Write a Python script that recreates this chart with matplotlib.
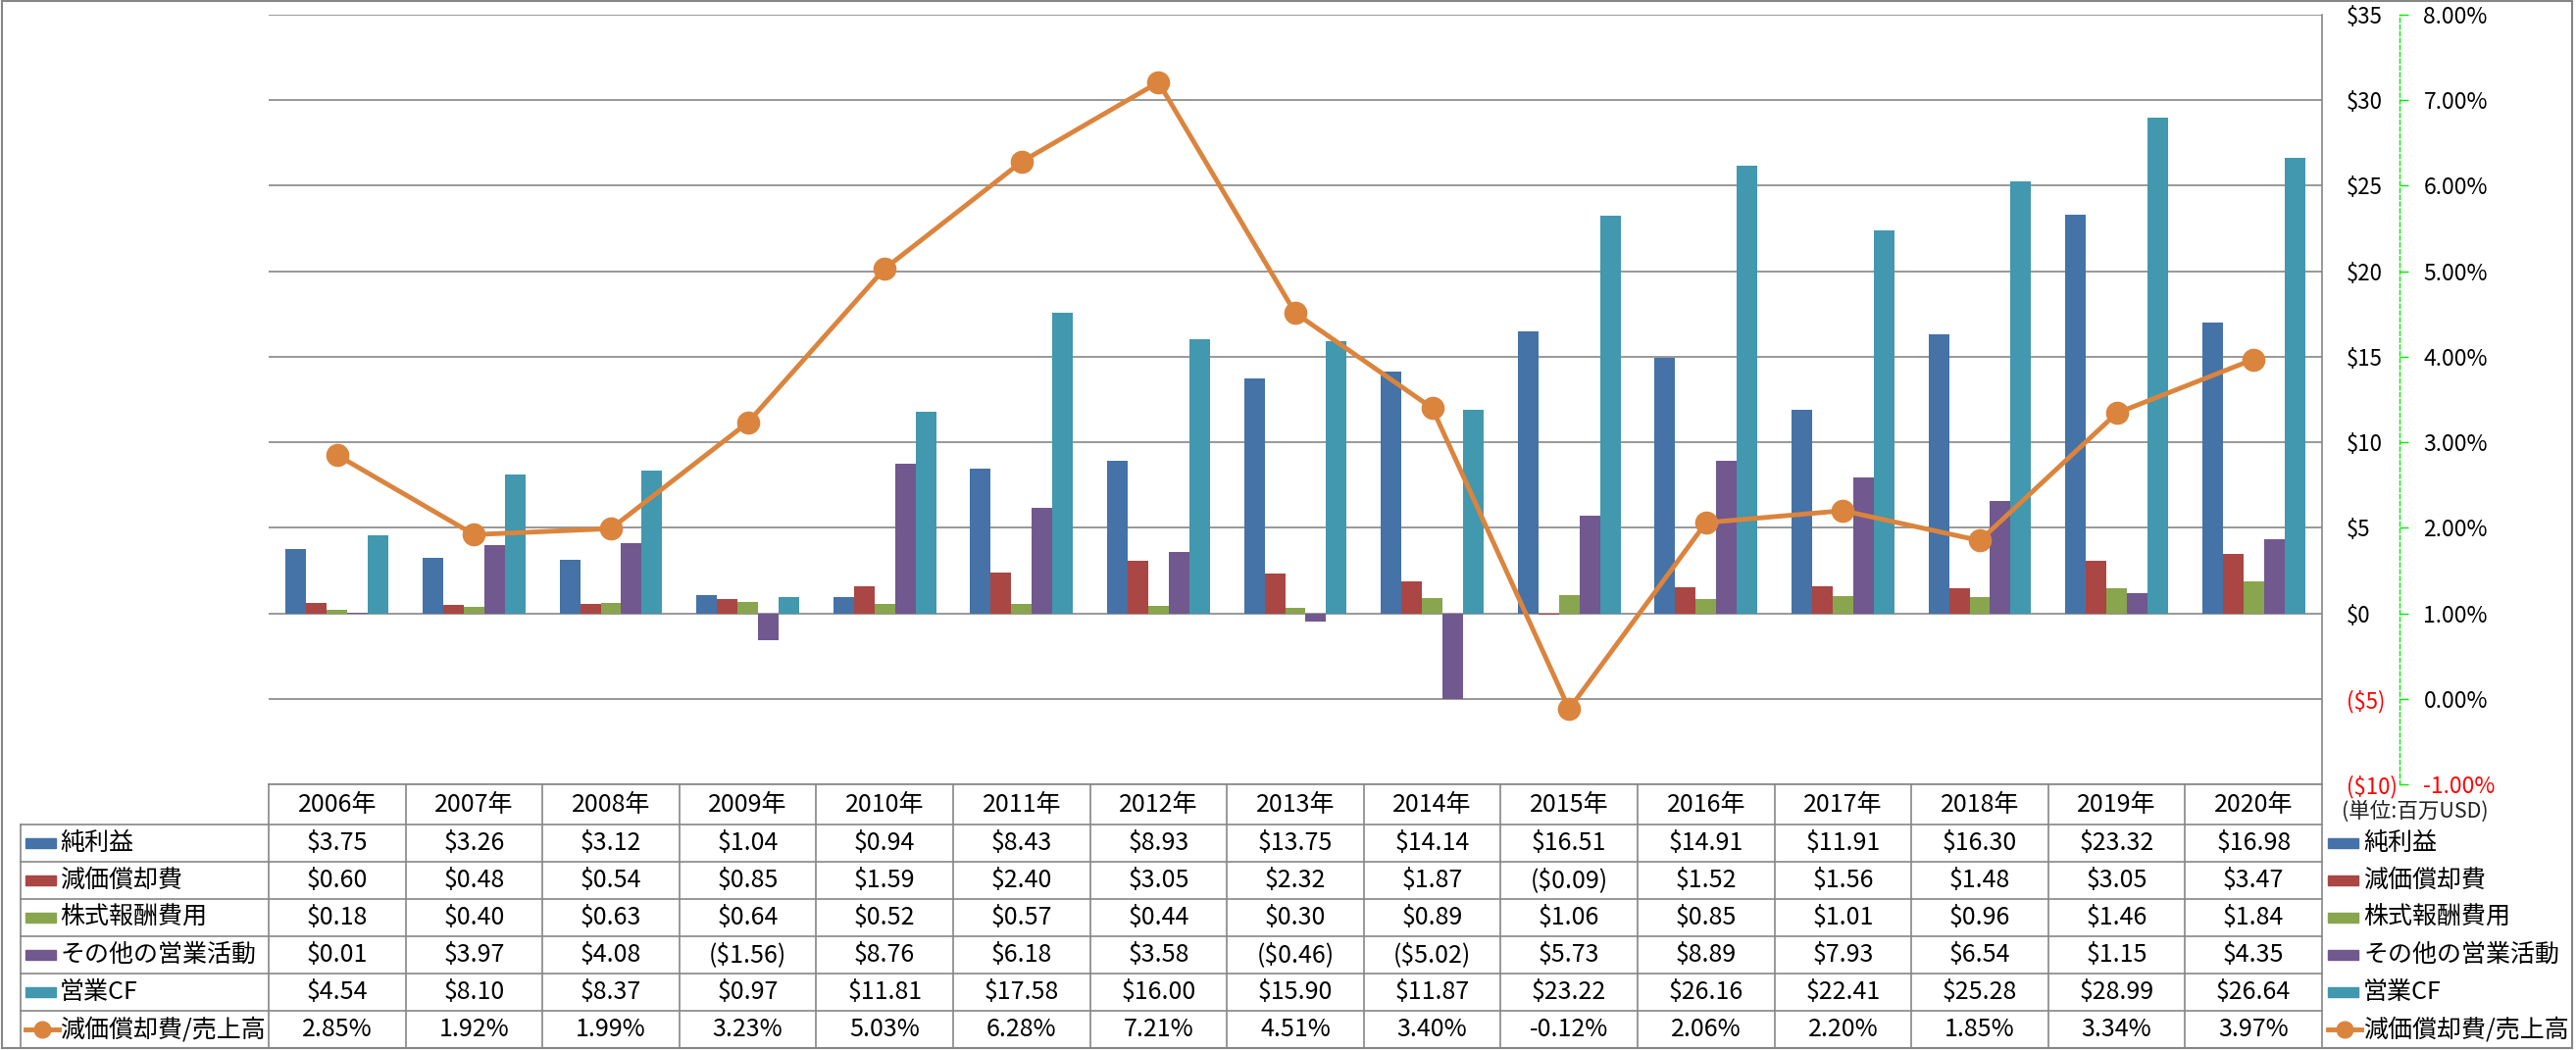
import numpy as np
import matplotlib.pyplot as plt
from matplotlib.patches import Rectangle

plt.rcParams['font.family'] = ['Noto Sans CJK JP', 'DejaVu Sans']

years = ["2006年", "2007年", "2008年", "2009年", "2010年", "2011年", "2012年", "2013年",
         "2014年", "2015年", "2016年", "2017年", "2018年", "2019年", "2020年"]

net_income = [3.75, 3.26, 3.12, 1.04, 0.94, 8.43, 8.93, 13.75, 14.14, 16.51, 14.91, 11.91, 16.30, 23.32, 16.98]
depreciation = [0.60, 0.48, 0.54, 0.85, 1.59, 2.40, 3.05, 2.32, 1.87, -0.09, 1.52, 1.56, 1.48, 3.05, 3.47]
stock_comp = [0.18, 0.40, 0.63, 0.64, 0.52, 0.57, 0.44, 0.30, 0.89, 1.06, 0.85, 1.01, 0.96, 1.46, 1.84]
other_ops = [0.01, 3.97, 4.08, -1.56, 8.76, 6.18, 3.58, -0.46, -5.02, 5.73, 8.89, 7.93, 6.54, 1.15, 4.35]
operating_cf = [4.54, 8.10, 8.37, 0.97, 11.81, 17.58, 16.00, 15.90, 11.87, 23.22, 26.16, 22.41, 25.28, 28.99, 26.64]
dep_ratio = [2.85, 1.92, 1.99, 3.23, 5.03, 6.28, 7.21, 4.51, 3.40, -0.12, 2.06, 2.20, 1.85, 3.34, 3.97]

bar_names = ["純利益", "減価償却費", "株式報酬費用", "その他の営業活動", "営業CF"]
line_name = "減価償却費/売上高"
bar_colors = ["#4572A7", "#AA4643", "#89A54E", "#71588F", "#4198AF"]
line_color = "#DB843D"
grid_color = "#868686"

y_ticks = [-10, -5, 0, 5, 10, 15, 20, 25, 30, 35]
pct_ticks = [-1, 0, 1, 2, 3, 4, 5, 6, 7, 8]

W, H = 2627, 1071
fig = plt.figure(figsize=(W / 100, H / 100), dpi=100)

# plot area in pixels
left, right, top, bottom = 274, 2368, 15, 800
ax = fig.add_axes([left / W, 1 - bottom / H, (right - left) / W, (bottom - top) / H])

series = [net_income, depreciation, stock_comp, other_ops, operating_cf]
x = np.arange(len(years))
bw = 0.15
for k, (vals, col) in enumerate(zip(series, bar_colors)):
    ax.bar(x + (k - 2) * bw, vals, width=bw, color=col, zorder=2)

ax.set_xlim(-0.5, len(years) - 0.5)
ax.set_ylim(-10, 35)
ax.set_xticks([])
ax.set_axisbelow(True)
ax.yaxis.grid(True, color=grid_color, lw=1.2)
for s in ["left", "top", "bottom"]:
    ax.spines[s].set_visible(False)
ax.spines["right"].set_color(grid_color)
ax.spines["right"].set_linewidth(1.2)

# secondary axis for the ratio
ax2 = ax.twinx()
ax2.set_ylim(-1, 8)
ax2.set_yticks(pct_ticks, [f"{v:.2f}%" for v in pct_ticks])
for s in ["left", "top", "bottom"]:
    ax2.spines[s].set_visible(False)
ax2.spines["right"].set_position(("outward", 57))
ax2.spines["right"].set_color("#00EE00")
ax2.spines["right"].set_linestyle((0, (3, 2)))
ax2.spines["right"].set_linewidth(1)
ax2.tick_params(axis="y", direction="out", length=6.5, width=1, color="#00EE00",
                pad=11, labelsize=16.5)
ax2.plot(x, dep_ratio, color=line_color, lw=3.5, marker="o", ms=16,
         markeredgecolor=line_color, clip_on=False, zorder=3)


def money(v):
    return f"(${-v})" if v < 0 else f"${v}"


# primary labels sit on the right too (twinx moved them left)
ax.yaxis.tick_right()
ax.set_yticks(y_ticks, [money(v) for v in y_ticks])
ax.tick_params(axis="y", which="both", left=False, right=False, labelleft=False,
               labelright=True, length=0, pad=18, labelsize=16)

# negative tick labels in red on both axes
for axis_obj, vals in [(ax.yaxis, y_ticks), (ax2.yaxis, pct_ticks)]:
    for tick, v in zip(axis_obj.get_major_ticks(), vals):
        c = "red" if v < 0 else "black"
        tick.label1.set_color(c)
        tick.label2.set_color(c)

# overlay in pixel coordinates for the data table and legend
ov = fig.add_axes([0, 0, 1, 1], zorder=5)
ov.set_xlim(0, W)
ov.set_ylim(H, 0)
ov.axis("off")
ov.patch.set_visible(False)

to_px = lambda xv: ax.transData.transform((xv, 0))[0]
col_edges = [to_px(i - 0.5) for i in range(len(years) + 1)]
col_centers = [to_px(i) for i in x]

row_edges = [800, 841, 879, 917, 955, 993, 1031, 1069]
lab_left = 21
lc = grid_color
lw = 1.2

# horizontal lines
ov.plot([col_edges[0], col_edges[-1]], [row_edges[0]] * 2, color=lc, lw=lw)
for y in row_edges[1:]:
    ov.plot([lab_left, col_edges[-1]], [y, y], color=lc, lw=lw)
# vertical lines
for xe in col_edges:
    ov.plot([xe, xe], [row_edges[0], row_edges[-1]], color=lc, lw=lw)
ov.plot([lab_left, lab_left], [row_edges[1], row_edges[-1]], color=lc, lw=lw)

fs = 18
hdr_y = (row_edges[0] + row_edges[1]) / 2
for cx, yr in zip(col_centers, years):
    ov.text(cx, hdr_y, yr, ha="center", va="center", fontsize=fs)

row_vals = series + [dep_ratio]
row_names = bar_names + [line_name]
for r, (name, vals) in enumerate(zip(row_names, row_vals)):
    yc = (row_edges[r + 1] + row_edges[r + 2]) / 2
    for cx, v in zip(col_centers, vals):
        s = f"{v:.2f}%" if r == 5 else (f"(${-v:.2f})" if v < 0 else f"${v:.2f}")
        ov.text(cx, yc, s, ha="center", va="center", fontsize=fs)
    # row label keys (left) and legend (right)
    for kx, tx in [(26, 61), (2374, 2410)]:
        if r < 5:
            ov.add_patch(Rectangle((kx, yc - 5), 31, 10, color=bar_colors[r]))
        else:
            ov.plot([kx, kx + 34], [yc, yc], color=line_color, lw=3.5)
            ov.plot([kx + 17], [yc], marker="o", ms=12, color=line_color)
        ov.text(tx, yc, name, ha="left", va="center", fontsize=fs)

ov.text(2388, 828, "(単位:百万USD)", ha="left", va="center", fontsize=15.5, color="#222222")

# outer chart border
ov.add_patch(Rectangle((2, 1), W - 6, H - 3, fill=False, edgecolor=lc, lw=1.5))

fig.savefig("out.png", dpi=100)
